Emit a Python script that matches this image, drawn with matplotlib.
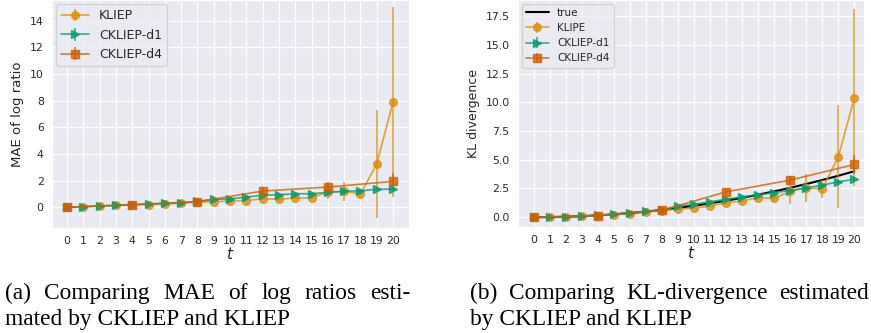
import matplotlib
matplotlib.use("Agg")
import matplotlib.pyplot as plt
import seaborn as sns
import numpy as np

sns.set_style("darkgrid")
plt.rcParams['font.family'] = ['DejaVu Sans']

t = list(range(21))
t_d4 = [0, 4, 8, 12, 16, 20]
xtick_labels = [str(i) for i in t]

# ---- (a) MAE of log ratio ----
mae_kliep = [0, 0.05, 0.1, 0.15, 0.2, 0.2, 0.25, 0.3, 0.4, 0.42, 0.47, 0.5, 0.65, 0.6, 0.7, 0.7, 1.15, 1.2, 1.0, 3.25, 7.9]
mae_kliep_err = [0, 0, 0, 0, 0, 0, 0, 0, 0.05, 0.05, 0.08, 0.08, 0.1, 0.1, 0.1, 0.1, 0.55, 0.7, 0.3, 4.05, 7.1]
mae_d1 = [0, 0.05, 0.1, 0.15, 0.2, 0.25, 0.3, 0.35, 0.45, 0.6, 0.63, 0.77, 0.9, 0.95, 1.02, 1.02, 1.12, 1.2, 1.25, 1.35, 1.37]
mae_d1_err = [0, 0.01, 0.01, 0.02, 0.02, 0.02, 0.03, 0.03, 0.04, 0.05, 0.05, 0.05, 0.06, 0.06, 0.06, 0.07, 0.07, 0.08, 0.08, 0.08, 0.09]
mae_d4 = [0, 0.2, 0.42, 1.22, 1.52, 1.95]
mae_d4_err = [0, 0.03, 0.05, 0.3, 0.4, 0.65]

# ---- (b) KL divergence ----
kl_true = [0, 0.01, 0.04, 0.09, 0.16, 0.25, 0.36, 0.49, 0.64, 0.81, 1.0, 1.21, 1.44, 1.69, 1.96, 2.25, 2.56, 2.89, 3.24, 3.61, 4.0]
kl_klipe = [0, 0.01, 0.03, 0.08, 0.14, 0.22, 0.32, 0.45, 0.58, 0.7, 0.81, 0.96, 1.28, 1.4, 1.71, 1.63, 2.27, 2.56, 2.47, 5.26, 10.4]
kl_klipe_err = [0, 0, 0, 0.01, 0.01, 0.02, 0.03, 0.04, 0.05, 0.08, 0.1, 0.12, 0.2, 0.2, 0.2, 0.3, 1.15, 1.2, 0.8, 4.5, 7.7]
kl_d1 = [0, 0.01, 0.04, 0.1, 0.16, 0.25, 0.36, 0.5, 0.62, 0.96, 1.13, 1.34, 1.57, 1.77, 1.95, 2.15, 2.32, 2.56, 2.79, 3.08, 3.31]
kl_d1_err = [0, 0.01, 0.01, 0.02, 0.02, 0.03, 0.03, 0.04, 0.05, 0.06, 0.07, 0.08, 0.09, 0.1, 0.1, 0.11, 0.12, 0.13, 0.14, 0.15, 0.16]
kl_d4 = [0, 0.15, 0.61, 2.21, 3.23, 4.59]
kl_d4_err = [0, 0.03, 0.06, 0.25, 0.4, 0.8]

C_KLIEP = '#DE8F05'
C_D1 = '#029E73'
C_D4 = '#D55E00'

W, H = 871, 333
fig = plt.figure(figsize=(W / 100, H / 100), dpi=100)

def px_axes(l, r, top, bot):
    return fig.add_axes([l / W, (H - bot) / H, (r - l) / W, (bot - top) / H])

ax1 = px_axes(52, 409, 0, 228)
ax2 = px_axes(518, 864, 0, 227)

ekw = dict(alpha=0.8, lw=1.2, ms=5.5, elinewidth=1.2, capsize=0)

ax1.errorbar(t, mae_kliep, yerr=mae_kliep_err, color=C_KLIEP, marker='o', label='KLIEP', **ekw)
ax1.errorbar(t, mae_d1, yerr=mae_d1_err, color=C_D1, marker='>', label='CKLIEP-d1', **ekw)
ax1.errorbar(t_d4, mae_d4, yerr=mae_d4_err, color=C_D4, marker='s', label='CKLIEP-d4', **ekw)
ax1.set_xlim(-0.92, 20.98)
ax1.set_ylim(-1.55, 15.55)
ax1.set_yticks([0, 2, 4, 6, 8, 10, 12, 14])
ax1.set_ylabel('MAE of log ratio', fontsize=9.5)
ax1.legend(loc='upper left', fontsize=9, handlelength=2.2, borderaxespad=0.35)

ax2.plot(t, kl_true, color='black', lw=1.5, label='true')
ax2.errorbar(t, kl_klipe, yerr=kl_klipe_err, color=C_KLIEP, marker='o', label='KLIPE', **ekw)
ax2.errorbar(t, kl_d1, yerr=kl_d1_err, color=C_D1, marker='>', label='CKLIEP-d1', **ekw)
ax2.errorbar(t_d4, kl_d4, yerr=kl_d4_err, color=C_D4, marker='s', label='CKLIEP-d4', **ekw)
ax2.set_xlim(-0.98, 20.6)
ax2.set_ylim(-0.85, 18.9)
ax2.set_yticks([0, 2.5, 5, 7.5, 10, 12.5, 15, 17.5])
ax2.set_yticklabels(['0.0', '2.5', '5.0', '7.5', '10.0', '12.5', '15.0', '17.5'])
ax2.set_ylabel('KL divergence', fontsize=9)
ax2.legend(loc='upper left', fontsize=7.5, handlelength=2.2, borderaxespad=0.35)

for ax in (ax1, ax2):
    ax.set_xticks(t)
    ax.set_xticklabels(xtick_labels)
    ax.set_xlabel('$t$', fontsize=11, labelpad=0)
    ax.tick_params(axis='both', labelsize=7.8, length=0, pad=6, colors='#2a2a2a')
    ax.yaxis.label.set_color('#262626')
    ax.xaxis.label.set_color('#262626')

# ---- captions (justified first line) ----
cap_font = dict(family='Liberation Serif', fontsize=16.8, color='black')
captions = [
    (5, 410, ["(a)", "Comparing", "MAE", "of", "log", "ratios", "esti-"], "mated by CKLIEP and KLIEP"),
    (470, 869, ["(b)", "Comparing", "KL-divergence", "estimated"], "by CKLIEP and KLIEP"),
]
y1 = (H - 299) / H
y2 = (H - 325) / H
fig.canvas.draw()
renderer = fig.canvas.get_renderer()
for x0, x1, words, line2 in captions:
    texts = [fig.text(0, y1, w, ha='left', va='baseline', **cap_font) for w in words]
    widths = [tx.get_window_extent(renderer).width for tx in texts]
    gap = (x1 - x0 - sum(widths)) / (len(words) - 1)
    x = x0
    for tx, wd in zip(texts, widths):
        tx.set_x(x / W)
        x += wd + gap
    fig.text(x0 / W, y2, line2, ha='left', va='baseline', **cap_font)

fig.savefig('out.png', dpi=100)
